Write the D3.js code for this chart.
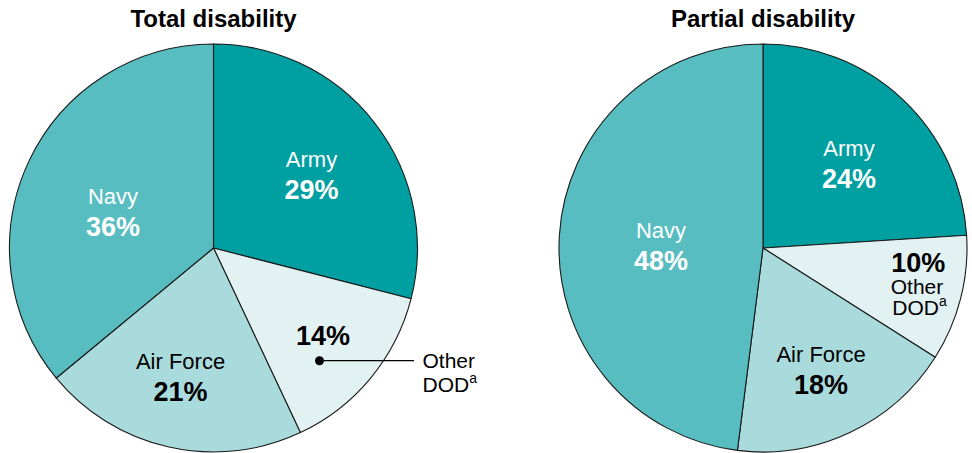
<!DOCTYPE html>
<html><head><meta charset="utf-8">
<script src="https://cdn.jsdelivr.net/npm/d3@7"></script>
<style>
html,body{margin:0;padding:0;background:#fff;}
svg{display:block;font-family:"Liberation Sans",Arial,sans-serif;}
</style></head>
<body>
<svg id="c" width="972" height="453"></svg>
<script>
const categories = ["Army", "Other DOD", "Air Force", "Navy"];
const totalValues = [29, 14, 21, 36];
const partialValues = [24, 10, 18, 48];
const chartTitles = ["Total disability", "Partial disability"];
const colors = ["#009fa1", "#e2f1f2", "#a9dbdd", "#57bdc0"];
const textColors = ["#fff", "#000", "#000", "#fff"];

const svg = d3.select("#c");
const R = 204;
const charts = [
  {title: chartTitles[0], values: totalValues, cx: 213.5, cy: 248,
   labels: [[98, -65], null, [-33, 137], [-100.5, -28]]},
  {title: chartTitles[1], values: partialValues, cx: 763, cy: 248,
   labels: [[86, -76], null, [58, 130], [-102, 6]]}
];

const pie = d3.pie().sort(null).value(d => d.v);
const arc = d3.arc().innerRadius(0).outerRadius(R);

charts.forEach((ch, ci) => {
  const g = svg.append("g").attr("transform", `translate(${ch.cx},${ch.cy})`);
  svg.append("text").attr("x", ch.cx).attr("y", 26.5).attr("text-anchor", "middle")
    .attr("font-weight", "bold").attr("font-size", 24).text(ch.title);
  const data = pie(categories.map((c, i) => ({c, v: ch.values[i], i})));
  g.selectAll("path").data(data).enter().append("path")
    .attr("d", arc).attr("fill", d => colors[d.data.i])
    .attr("stroke", "#1a1a1a").attr("stroke-width", 1.1).attr("stroke-linejoin", "round");

  data.forEach(d => {
    const i = d.data.i;
    const pos = ch.labels[i];
    if (!pos) return;
    const t = g.append("text").attr("text-anchor", "middle").attr("fill", textColors[i]);
    t.append("tspan").attr("x", pos[0]).attr("y", pos[1] - 16.5).attr("font-size", 22).text(d.data.c);
    t.append("tspan").attr("x", pos[0]).attr("y", pos[1] + 16).attr("font-size", 27)
      .attr("font-weight", "bold").text(d.data.v + "%");
  });

  // Other DOD label
  const od = data[1];
  if (ci === 0) {
    g.append("text").attr("x", 109.5).attr("y", 97).attr("text-anchor", "middle")
      .attr("font-size", 27).attr("font-weight", "bold").text(od.data.v + "%");
    g.append("circle").attr("cx", 106).attr("cy", 112.7).attr("r", 4.5).attr("fill", "#000");
    g.append("line").attr("x1", 106).attr("y1", 112.7).attr("x2", 200.5).attr("y2", 112.7)
      .attr("stroke", "#000").attr("stroke-width", 1.3);
    const t = g.append("text").attr("font-size", 21);
    t.append("tspan").attr("x", 209).attr("y", 120.3).text("Other");
    const t2 = g.append("text").attr("font-size", 21).attr("x", 209).attr("y", 143.7);
    t2.append("tspan").text("DOD");
    t2.append("tspan").attr("font-size", 14).attr("dy", -9).text("a");
  } else {
    g.append("text").attr("x", 155.3).attr("y", 23.7).attr("text-anchor", "middle")
      .attr("font-size", 27).attr("font-weight", "bold").text(od.data.v + "%");
    g.append("text").attr("x", 154).attr("y", 46.3).attr("text-anchor", "middle")
      .attr("font-size", 21).text("Other");
    const t2 = g.append("text").attr("font-size", 21).attr("x", 129.3).attr("y", 67);
    t2.append("tspan").text("DOD");
    t2.append("tspan").attr("font-size", 14).attr("dy", -9).text("a");
  }
});
</script>
</body></html>
